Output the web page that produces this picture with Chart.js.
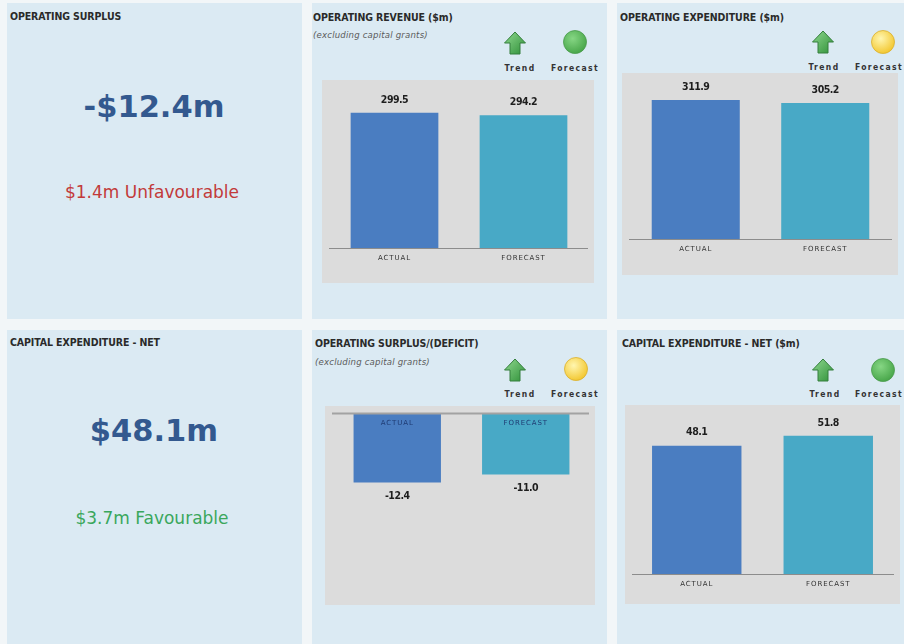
<!DOCTYPE html>
<html>
<head>
<meta charset="utf-8">
<script src="https://cdn.jsdelivr.net/npm/chart.js@4/dist/chart.umd.min.js"></script>
<style>
  body { margin: 0; width: 904px; height: 644px; background: #f2f6f8; position: relative; overflow: hidden;
         font-family: "Liberation Sans Narrow", "DejaVu Sans Condensed", sans-serif; }
  .panel { position: absolute; background: #dbeaf3; }
  .t { position: absolute; line-height: 1; white-space: nowrap; transform: translateY(-50%); }
  .c { position: absolute; line-height: 1; white-space: nowrap; transform: translate(-50%, -50%); }
  .title { font-weight: bold; font-size: 10.5px; color: #2a2a2a; letter-spacing: -0.1px; }
  .sub { font-style: italic; font-size: 9.5px; color: #5a5a5a; letter-spacing: 0.2px; }
  .lbl { font-weight: bold; font-size: 8.5px; color: #333; letter-spacing: 1.4px; }
  .kpi { font-family: "DejaVu Sans", sans-serif; font-weight: bold; font-size: 30.5px; color: #33598f; }
  .var { font-family: "DejaVu Sans", sans-serif; font-size: 17px; }
  .icon { position: absolute; transform: translate(-50%, -50%); }
  canvas { position: absolute; background: #dcdcdc; }
</style>
</head>
<body>
<div class="panel" style="left:7px;top:3px;width:295px;height:316px"></div>
<div class="panel" style="left:312px;top:3px;width:295px;height:316px"></div>
<div class="panel" style="left:617px;top:3px;width:287px;height:316px"></div>
<div class="panel" style="left:7px;top:330px;width:295px;height:314px"></div>
<div class="panel" style="left:312px;top:330px;width:295px;height:314px"></div>
<div class="panel" style="left:617px;top:330px;width:287px;height:314px"></div>

<div class="t title" style="left:10px;top:16px">OPERATING SURPLUS</div>
<div class="t title" style="left:313px;top:17px">OPERATING REVENUE ($m)</div>
<div class="t sub" style="left:313px;top:35px">(excluding capital grants)</div>
<div class="t title" style="left:620px;top:17px">OPERATING EXPENDITURE ($m)</div>
<div class="t title" style="left:10px;top:342px">CAPITAL EXPENDITURE - NET</div>
<div class="t title" style="left:315px;top:343px">OPERATING SURPLUS/(DEFICIT)</div>
<div class="t sub" style="left:315px;top:362px">(excluding capital grants)</div>
<div class="t title" style="left:622px;top:343px">CAPITAL EXPENDITURE - NET ($m)</div>

<div class="c kpi" id="kpi1" style="left:154px;top:107px"></div>
<div class="c var" id="var1" style="left:152px;top:192px;color:#c23a3a"></div>
<div class="c kpi" id="kpi2" style="left:154px;top:431px"></div>
<div class="c var" id="var2" style="left:152px;top:518px;color:#3aa75c"></div>

<canvas id="chRevenue" width="272" height="203" style="left:322px;top:80px"></canvas>
<canvas id="chExpenditure" width="276" height="202" style="left:622px;top:73px"></canvas>
<canvas id="chSurplus" width="270" height="199" style="left:325px;top:406px"></canvas>
<canvas id="chCapex" width="275" height="199" style="left:625px;top:405px"></canvas>

<script>
// figures shown on the dashboard ($m)
const categories = ['ACTUAL', 'FORECAST']
const revenueValues = [299.5, 294.2]
const expenditureValues = [311.9, 305.2]
const surplusValues = [-12.4, -11.0]
const capexValues = [48.1, 51.8]

const surplusActual = -12.4
const surplusVariance = 1.4
const capexActual = 48.1
const capexVariance = 3.7

// trend arrow + forecast light for each chart panel
const indicators = [
    { arrow: [515, 45], light: [575, 44], labelY: 68, trendX: 520, fcX: 575, colour: 'green' },
    { arrow: [823, 44], light: [883, 44], labelY: 67, trendX: 824, fcX: 879, colour: 'yellow' },
    { arrow: [515, 372], light: [576, 371], labelY: 394, trendX: 520, fcX: 575, colour: 'yellow' },
    { arrow: [823, 372], light: [883, 372], labelY: 394, trendX: 825, fcX: 879, colour: 'green' }
]

const fmtM = v => (v < 0 ? '-' : '') + '$' + Math.abs(v).toFixed(1) + 'm'
document.getElementById('kpi1').textContent = fmtM(surplusActual)
document.getElementById('var1').textContent = fmtM(surplusVariance) + ' Unfavourable'
document.getElementById('kpi2').textContent = fmtM(capexActual)
document.getElementById('var2').textContent = fmtM(capexVariance) + ' Favourable'

const arrowSvg = `<svg width="23" height="24" viewBox="0 0 23 24">
  <defs><linearGradient id="ga" x1="0" y1="0" x2="1" y2="1">
    <stop offset="0" stop-color="#8fd88f"/><stop offset="1" stop-color="#2f9038"/></linearGradient></defs>
  <polygon points="11.5,1 22,12 16.5,12 16.5,23 6.5,23 6.5,12 1,12" fill="url(#ga)" stroke="#357f3c" stroke-width="1"/>
</svg>`
const lightSvg = (c1, c2, edge) => `<svg width="25" height="25" viewBox="0 0 25 25">
  <defs><radialGradient id="g${c1.slice(1)}" cx="0.4" cy="0.35" r="0.7">
    <stop offset="0" stop-color="${c1}"/><stop offset="1" stop-color="${c2}"/></radialGradient></defs>
  <circle cx="12.5" cy="12.5" r="11.5" fill="url(#g${c1.slice(1)})" stroke="${edge}" stroke-width="0.8"/>
</svg>`

indicators.forEach(ind => {
    const a = document.createElement('div')
    a.className = 'icon'
    a.style.left = ind.arrow[0] + 'px'
    a.style.top = ind.arrow[1] + 'px'
    a.innerHTML = arrowSvg
    document.body.appendChild(a)

    const l = document.createElement('div')
    l.className = 'icon'
    l.style.left = ind.light[0] + 'px'
    l.style.top = ind.light[1] + 'px'
    l.innerHTML = ind.colour == 'green'
        ? lightSvg('#86d684', '#45a447', '#4a9a4c')
        : lightSvg('#fff6b0', '#f2c52a', '#d9b030')
    document.body.appendChild(l)

    const t = document.createElement('div')
    t.className = 'c lbl'
    t.style.left = ind.trendX + 'px'
    t.style.top = ind.labelY + 'px'
    t.textContent = 'Trend'
    document.body.appendChild(t)

    const f = document.createElement('div')
    f.className = 'c lbl'
    f.style.left = ind.fcX + 'px'
    f.style.top = ind.labelY + 'px'
    f.textContent = 'Forecast'
    document.body.appendChild(f)
})

// zero line, value labels and category labels
const barLabels = {
    id: 'barLabels',
    afterDatasetsDraw(chart) {
        const ctx = chart.ctx
        const x = chart.scales.x
        const y = chart.scales.y
        const zero = y.getPixelForValue(0)
        const negative = chart.data.datasets[0].data[0] < 0

        ctx.save()
        ctx.strokeStyle = negative ? '#a2a2a2' : '#8c8c8c'
        ctx.lineWidth = negative ? 2 : 1
        ctx.beginPath()
        ctx.moveTo(7, zero + 0.5)
        ctx.lineTo(chart.width - 6, zero + 0.5)
        ctx.stroke()

        ctx.textAlign = 'center'
        ctx.textBaseline = 'middle'
        chart.getDatasetMeta(0).data.forEach((bar, i) => {
            const v = chart.data.datasets[0].data[i]
            ctx.fillStyle = '#1e1e1e'
            ctx.letterSpacing = '-0.5px'
            ctx.font = 'bold 10.5px "Liberation Sans Narrow", "DejaVu Sans Condensed", sans-serif'
            ctx.fillText(v.toFixed(1), bar.x, v < 0 ? bar.y + 14 : bar.y - 13)

            ctx.fillStyle = negative ? '#1f3b73' : '#333'
            ctx.letterSpacing = '0.9px'
            ctx.font = '7px "DejaVu Sans", sans-serif'
            ctx.fillText(chart.data.labels[i], x.getPixelForValue(i), zero + 10)
        })
        ctx.restore()
    }
}

const crearGrafico = (id, valores, min, max, padding) => {
    const ctx = document.getElementById(id).getContext('2d')
    return new Chart(ctx, {
        type: 'bar',
        data: {
            labels: categories,
            datasets: [{
                data: valores,
                backgroundColor: ['#4a7dc1', '#48a9c6'],
                borderWidth: 0,
                barPercentage: 0.68,
                categoryPercentage: 1
            }]
        },
        options: {
            responsive: false,
            animation: false,
            layout: { padding: padding },
            plugins: { legend: { display: false }, tooltip: { enabled: false } },
            scales: {
                x: { display: false },
                y: { display: false, min: min, max: max }
            }
        },
        plugins: [barLabels]
    })
}

crearGrafico('chRevenue', revenueValues, 0, 350, { left: 8, right: 6, top: 10, bottom: 35 })
crearGrafico('chExpenditure', expenditureValues, 0, 350, { left: 9, right: 8, top: 10, bottom: 36 })
crearGrafico('chSurplus', surplusValues, -30, 0, { left: 8, right: 5, top: 7, bottom: 24 })
crearGrafico('chCapex', capexValues, 0, 60, { left: 6, right: 6, top: 9, bottom: 30 })
</script>
</body>
</html>
